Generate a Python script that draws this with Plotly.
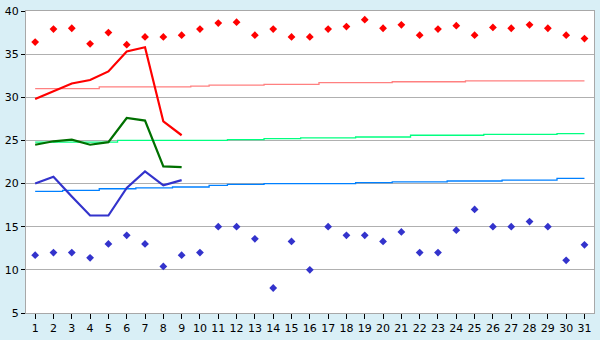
import plotly.graph_objects as go

days = list(range(1, 32))
obs_days = list(range(1, 10))

record_high = [36.4, 37.9, 38.0, 36.2, 37.5, 36.1, 37.0, 37.0, 37.2, 37.9,
               38.6, 38.7, 37.2, 37.9, 37.0, 37.0, 37.9, 38.2, 39.0, 38.0,
               38.4, 37.2, 37.9, 38.3, 37.2, 38.1, 38.0, 38.4, 38.0, 37.2, 36.8]
record_low = [11.7, 12.0, 12.0, 11.4, 13.0, 14.0, 13.0, 10.4, 11.7, 12.0,
              15.0, 15.0, 13.6, 7.9, 13.3, 10.0, 15.0, 14.0, 14.0, 13.3,
              14.4, 12.0, 12.0, 14.6, 17.0, 15.0, 15.0, 15.6, 15.0, 11.1, 12.9]
normal_max = [31.0, 31.0, 31.0, 31.0, 31.2, 31.2, 31.2, 31.2, 31.2, 31.3,
              31.4, 31.4, 31.4, 31.5, 31.5, 31.5, 31.7, 31.7, 31.7, 31.7,
              31.8, 31.8, 31.8, 31.8, 31.9, 31.9, 31.9, 31.9, 31.9, 31.9, 31.9]
normal_mean = [24.8, 24.8, 24.8, 24.8, 24.8, 25.0, 25.0, 25.0, 25.0, 25.0,
               25.0, 25.1, 25.1, 25.2, 25.2, 25.3, 25.3, 25.3, 25.4, 25.4,
               25.4, 25.6, 25.6, 25.6, 25.6, 25.7, 25.7, 25.7, 25.7, 25.8, 25.8]
normal_min = [19.1, 19.1, 19.2, 19.2, 19.4, 19.4, 19.5, 19.5, 19.6, 19.6,
              19.8, 19.9, 19.9, 20.0, 20.0, 20.0, 20.0, 20.0, 20.1, 20.1,
              20.2, 20.2, 20.2, 20.3, 20.3, 20.3, 20.4, 20.4, 20.4, 20.6, 20.6]
daily_max = [29.8, 30.7, 31.6, 32.0, 33.0, 35.3, 35.8, 27.2, 25.6]
daily_mean = [24.5, 24.9, 25.1, 24.5, 24.8, 27.6, 27.3, 22.0, 21.9]
daily_min = [20.0, 20.8, 18.5, 16.3, 16.3, 19.5, 21.4, 19.8, 20.4]

y_ticks = [5, 10, 15, 20, 25, 30, 35, 40]

fig = go.Figure()

for vals, col in [(normal_max, "#FF8080"), (normal_mean, "#00FF80"), (normal_min, "#0080FF")]:
    fig.add_trace(go.Scatter(x=days, y=vals, mode="lines", line=dict(color=col, width=1.3, shape="hvh"),
                             hoverinfo="skip"))

for vals, col in [(daily_max, "#FF0000"), (daily_mean, "#007000"), (daily_min, "#3333CC")]:
    fig.add_trace(go.Scatter(x=obs_days, y=vals, mode="lines", line=dict(color=col, width=2.2)))

fig.add_trace(go.Scatter(x=days, y=record_high, mode="markers",
                         marker=dict(symbol="diamond", size=6, color="#FF0000")))
fig.add_trace(go.Scatter(x=days, y=record_low, mode="markers",
                         marker=dict(symbol="diamond", size=6, color="#3333CC")))

fig.update_layout(
    width=600, height=340, autosize=False,
    margin=dict(l=20, r=5, t=5, b=20),
    paper_bgcolor="#D9EFF6",
    plot_bgcolor="#FFFFFF",
    showlegend=False,
    font=dict(family="DejaVu Sans", size=11, color="#000000"),
)
fig.update_xaxes(range=[0.5, 31.52], tickvals=days, ticktext=[str(d) for d in days],
                 showgrid=False, zeroline=False, ticks="outside", ticklen=5, tickcolor="#000000",
                 showline=True, linecolor="#A8A8A8", linewidth=1, mirror=True,
                 tickfont=dict(size=11), ticklabeloverflow="allow")
fig.update_yaxes(range=[5, 40], tickvals=y_ticks, showgrid=True, gridcolor="#B0B0B0", gridwidth=1,
                 zeroline=False, ticks="outside", ticklen=4, tickcolor="#000000",
                 showline=True, linecolor="#A8A8A8", linewidth=1, mirror=True,
                 tickfont=dict(size=11), ticklabeloverflow="allow")

fig.write_html("out.html")
